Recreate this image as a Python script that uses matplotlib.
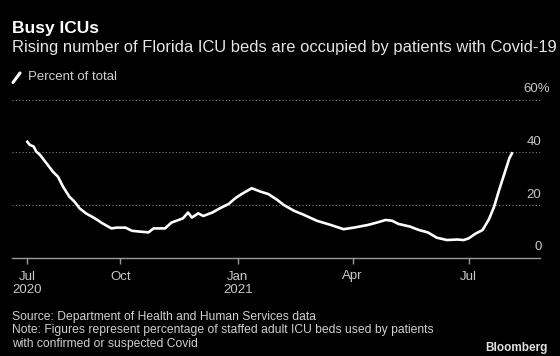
import numpy as np
import pandas as pd
import matplotlib
matplotlib.use("Agg")
from matplotlib import pyplot as plt
from matplotlib import transforms
from matplotlib.lines import Line2D

plt.rcParams['font.family'] = ['Liberation Sans', 'DejaVu Sans']

# share of staffed adult ICU beds used by covid patients (%)
dates = ["2020-07-20", "2020-07-22", "2020-07-25", "2020-07-27", "2020-07-30",
         "2020-08-03", "2020-08-07", "2020-08-09", "2020-08-13", "2020-08-17",
         "2020-08-22", "2020-08-26", "2020-08-30", "2020-09-04", "2020-09-11",
         "2020-09-17", "2020-09-24", "2020-09-28", "2020-10-05", "2020-10-10",
         "2020-10-16", "2020-10-23", "2020-10-27", "2020-11-05", "2020-11-10",
         "2020-11-19", "2020-11-23", "2020-11-26", "2020-12-01", "2020-12-05",
         "2020-12-12", "2020-12-18", "2020-12-25", "2020-12-30", "2021-01-04",
         "2021-01-12", "2021-01-19", "2021-01-25", "2021-02-01", "2021-02-06",
         "2021-02-14", "2021-02-22", "2021-03-04", "2021-03-15", "2021-03-25",
         "2021-04-02", "2021-04-13", "2021-04-20", "2021-04-27", "2021-05-02",
         "2021-05-07", "2021-05-16", "2021-05-23", "2021-05-30", "2021-06-06",
         "2021-06-14", "2021-06-22", "2021-06-27", "2021-07-01", "2021-07-06",
         "2021-07-12", "2021-07-17", "2021-07-21", "2021-07-25", "2021-07-30",
         "2021-08-02", "2021-08-04"]
pct = [44.0, 42.8, 42.2, 40.3, 39.0,
       36.5, 34.0, 32.7, 30.8, 27.0,
       23.2, 21.3, 18.8, 16.9, 15.0,
       13.1, 11.2, 11.5, 11.5, 10.3,
       10.0, 9.7, 11.2, 11.2, 13.4,
       15.0, 17.2, 15.3, 16.9, 15.9,
       17.2, 18.8, 20.5, 22.6, 24.2,
       26.4, 25.1, 24.2, 22.0, 20.1,
       17.9, 16.3, 14.1, 12.5, 10.9,
       11.5, 12.5, 13.4, 14.4, 14.1,
       12.9, 11.9, 10.6, 9.7, 7.7,
       6.8, 7.0, 6.8, 7.4, 9.1,
       10.6, 14.7, 19.4, 25.8, 33.3,
       37.8, 39.6]

tick_dates = ["2020-07-20", "2020-10-01", "2021-01-01", "2021-04-01", "2021-07-01"]
tick_labels = ["Jul\n2020", "Oct", "Jan\n2021", "Apr", "Jul"]
y_ticks = [0, 20, 40, 60]
y_labels = ["0", "20", "40", "60%"]

x = pd.to_datetime(dates)

fig = plt.figure(figsize=(5.6, 3.56), dpi=100, facecolor='black')
ax = fig.add_axes([12/560, 1 - 258/356, 528/560, 158.5/356])
ax.set_facecolor('black')

ax.plot(x, pct, color='white', lw=1.9, solid_joinstyle='round')

ax.set_ylim(0, 60)
ax.set_xlim(pd.Timestamp("2020-07-08"), pd.Timestamp("2021-08-26"))

for s in ['top', 'left', 'right']:
    ax.spines[s].set_visible(False)
ax.spines['bottom'].set_color('#9a9a9a')
ax.spines['bottom'].set_linewidth(1)

ax.set_xticks(pd.to_datetime(tick_dates))
ax.set_xticklabels(tick_labels)
ax.tick_params(axis='x', colors='#9a9a9a', length=4, width=1, pad=5,
               labelcolor='#c8c8c8', labelsize=9.5)

ax.yaxis.tick_right()
ax.set_yticks(y_ticks)
ax.set_yticklabels(y_labels)
ax.tick_params(axis='y', length=0, pad=1, labelcolor='#c8c8c8', labelsize=9.5)
for lab in ax.get_yticklabels():
    lab.set_horizontalalignment('right')
    dx = 6.5/72 if lab.get_text().endswith('%') else 0
    lab.set_transform(lab.get_transform() +
                      transforms.ScaledTranslation(dx, 12/100, fig.dpi_scale_trans))
ax.grid(axis='y', color='#808080', linestyle=(0, (1, 2)), lw=0.8)
ax.grid(axis='x', visible=False)
ax.set_axisbelow(True)

fig.text(12/560, 1 - 29/356, "Busy ICUs", color='white', fontsize=12.5,
         fontweight='bold', va='center', ha='left')
fig.text(12/560, 1 - 47.5/356,
         "Rising number of Florida ICU beds are occupied by patients with Covid-19",
         color='#e6e6e6', fontsize=11.9, va='center', ha='left')
fig.add_artist(Line2D([13/560, 20/560], [1 - 82.5/356, 1 - 73/356],
                      color='white', lw=2.2, solid_capstyle='round'))
fig.text(28/560, 1 - 77.5/356, "Percent of total", color='#d0d0d0',
         fontsize=9.5, va='center', ha='left')

fig.text(12/560, 1 - 317/356, "Source: Department of Health and Human Services data",
         color='#cfcfcf', fontsize=8.7, va='center', ha='left')
fig.text(12/560, 1 - 330.5/356,
         "Note: Figures represent percentage of staffed adult ICU beds used by patients",
         color='#cfcfcf', fontsize=8.7, va='center', ha='left')
fig.text(12/560, 1 - 344/356, "with confirmed or suspected Covid",
         color='#cfcfcf', fontsize=8.7, va='center', ha='left')
fig.text(548/560, 1 - 348/356, "Bloomberg", color='#e0e0e0', fontsize=8.5,
         fontweight='bold', va='center', ha='right')

fig.savefig("out.png", dpi=100, facecolor='black')
